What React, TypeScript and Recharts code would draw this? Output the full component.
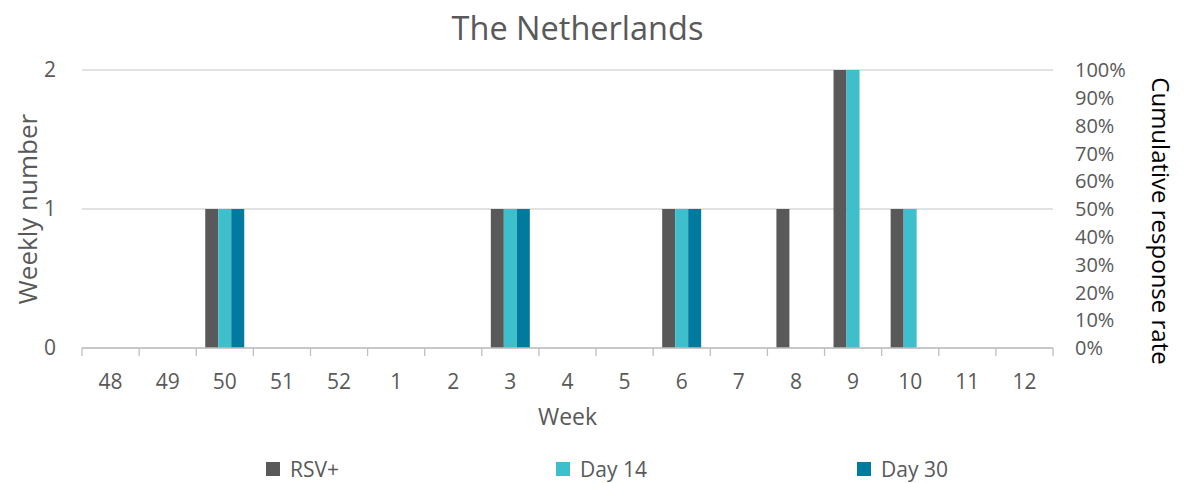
import React from "react";
import {
  BarChart,
  Bar,
  Line,
  XAxis,
  YAxis,
  CartesianGrid,
  Legend,
} from "recharts";

//========== Data ===========

const weeks = ["48", "49", "50", "51", "52", "1", "2", "3", "4", "5", "6", "7", "8", "9", "10", "11", "12"];
const rsvPositive = [0, 0, 1, 0, 0, 0, 0, 1, 0, 0, 1, 0, 1, 2, 1, 0, 0];
const day14 = [0, 0, 1, 0, 0, 0, 0, 1, 0, 0, 1, 0, 0, 2, 1, 0, 0];
const day30 = [0, 0, 1, 0, 0, 0, 0, 1, 0, 0, 1, 0, 0, 0, 0, 0, 0];
const leftTicks = [0, 1, 2];
const rightTicks = [0, 0.1, 0.2, 0.3, 0.4, 0.5, 0.6, 0.7, 0.8, 0.9, 1];

const data = weeks.map((week, i) => ({
  week,
  rsv: rsvPositive[i],
  d14: day14[i],
  d30: day30[i],
}));

//========== Styles ===========

const FONT = "'Open Sans', sans-serif";
const TEXT_GRAY = "#595959";
const AXIS_GRAY = "#BFBFBF";
const COLORS = { rsv: "#595959", d14: "#3EBFCC", d30: "#007A9E" };

const legendItems = [
  { key: "rsv", label: "RSV+", color: COLORS.rsv },
  { key: "d14", label: "Day 14", color: COLORS.d14 },
  { key: "d30", label: "Day 30", color: COLORS.d30 },
];
const LEGEND_LEFT = [266, 556, 857];

// x axis tick: label in centre, tick mark on category boundary
const WeekTick = (props: any) => {
  const { x, y, payload, index, visibleTicksCount } = props;
  const half = payload.offset ?? 28.5;
  const top = y - 8;
  return (
    <g>
      <line x1={x - half} x2={x - half} y1={top} y2={top + 8} stroke={AXIS_GRAY} strokeWidth={1.3} />
      {index === visibleTicksCount - 1 && (
        <line x1={x + half} x2={x + half} y1={top} y2={top + 8} stroke={AXIS_GRAY} strokeWidth={1.3} />
      )}
      <text x={x} y={y + 33} textAnchor="middle" fill={TEXT_GRAY} fontSize={21} fontFamily={FONT}>
        {payload.value}
      </text>
    </g>
  );
};

const ChartLegend = () => (
  <div style={{ position: "relative", height: 28, fontFamily: FONT }}>
    {legendItems.map((item, i) => (
      <div
        key={item.key}
        style={{
          position: "absolute",
          left: LEGEND_LEFT[i],
          top: 0,
          display: "flex",
          alignItems: "center",
          height: 28,
          gap: 10,
        }}
      >
        <span style={{ width: 14, height: 14, background: item.color, display: "inline-block" }} />
        <span style={{ fontSize: 21, color: TEXT_GRAY }}>{item.label}</span>
      </div>
    ))}
  </div>
);

const App: React.FC = () => {
  return (
    <div style={{ position: "absolute", left: 0, top: 0, width: 1185, height: 483, background: "#fff" }}>
      {/* ====== Title ====== */}
      <div
        style={{
          position: "absolute",
          left: 0,
          width: 1155,
          top: 5,
          textAlign: "center",
          fontFamily: FONT,
          fontSize: 32.5,
          color: TEXT_GRAY,
        }}
      >
        The Netherlands
      </div>

      {/* ====== Chart ====== */}
      <BarChart
        width={1185}
        height={483}
        data={data}
        margin={{ top: 70, right: 0, bottom: 0, left: 22 }}
        barSize={13}
        barGap={0}
      >
        <CartesianGrid yAxisId="left" vertical={false} stroke="#D9D9D9" strokeWidth={1.3} />
        <XAxis
          dataKey="week"
          height={107}
          tickLine={false}
          tickSize={6}
          tickMargin={2}
          interval={0}
          stroke={AXIS_GRAY}
          strokeWidth={1.3}
          tick={<WeekTick />}
          label={{
            content: (p: any) => (
              <text
                x={p.viewBox.x + p.viewBox.width / 2}
                y={p.viewBox.y + 77}
                textAnchor="middle"
                fill={TEXT_GRAY}
                fontSize={23}
                fontFamily={FONT}
              >
                Week
              </text>
            ),
          }}
        />
        <YAxis
          yAxisId="left"
          width={60}
          domain={[0, 2]}
          ticks={leftTicks}
          axisLine={false}
          tickLine={false}
          tickSize={0}
          tickMargin={26}
          tick={{ fill: TEXT_GRAY, fontSize: 21, fontFamily: FONT }}
          label={{
            content: (p: any) => {
              const cx = p.viewBox.x + 5;
              const cy = p.viewBox.y + p.viewBox.height / 2;
              return (
                <text
                  x={cx}
                  y={cy}
                  transform={`rotate(-90 ${cx} ${cy})`}
                  textAnchor="middle"
                  dominantBaseline="central"
                  fill={TEXT_GRAY}
                  fontSize={26}
                  fontFamily={FONT}
                >
                  Weekly number
                </text>
              );
            },
          }}
        />
        <YAxis
          yAxisId="right"
          orientation="right"
          width={132}
          type="number"
          domain={[0, 1]}
          allowDataOverflow
          ticks={rightTicks}
          interval={0}
          axisLine={false}
          tickLine={false}
          tickSize={0}
          tickMargin={22}
          tickFormatter={(v: number) => `${Math.round(v * 100)}%`}
          tick={{ fill: TEXT_GRAY, fontSize: 20, fontFamily: FONT, textAnchor: "start" }}
          label={{
            content: (p: any) => {
              const cx = p.viewBox.x + 108;
              const cy = p.viewBox.y + p.viewBox.height / 2 + 12;
              return (
                <text
                  x={cx}
                  y={cy}
                  transform={`rotate(90 ${cx} ${cy})`}
                  textAnchor="middle"
                  dominantBaseline="central"
                  fill="#000"
                  fontSize={24}
                  fontFamily={FONT}
                >
                  Cumulative response rate
                </text>
              );
            },
          }}
        />
        <Legend verticalAlign="bottom" height={28} wrapperStyle={{ left: 0, width: 1185 }} content={<ChartLegend />} />
        <Bar yAxisId="left" dataKey="rsv" name="RSV+" fill={COLORS.rsv} isAnimationActive={false} />
        <Bar yAxisId="left" dataKey="d14" name="Day 14" fill={COLORS.d14} isAnimationActive={false} />
        <Bar yAxisId="left" dataKey="d30" name="Day 30" fill={COLORS.d30} isAnimationActive={false} />
        {/* no cumulative series plotted; keeps the right axis alive */}
        <Line yAxisId="right" dataKey="cumulative" stroke="none" dot={false} legendType="none" isAnimationActive={false} />
      </BarChart>
    </div>
  );
};

export default App;
